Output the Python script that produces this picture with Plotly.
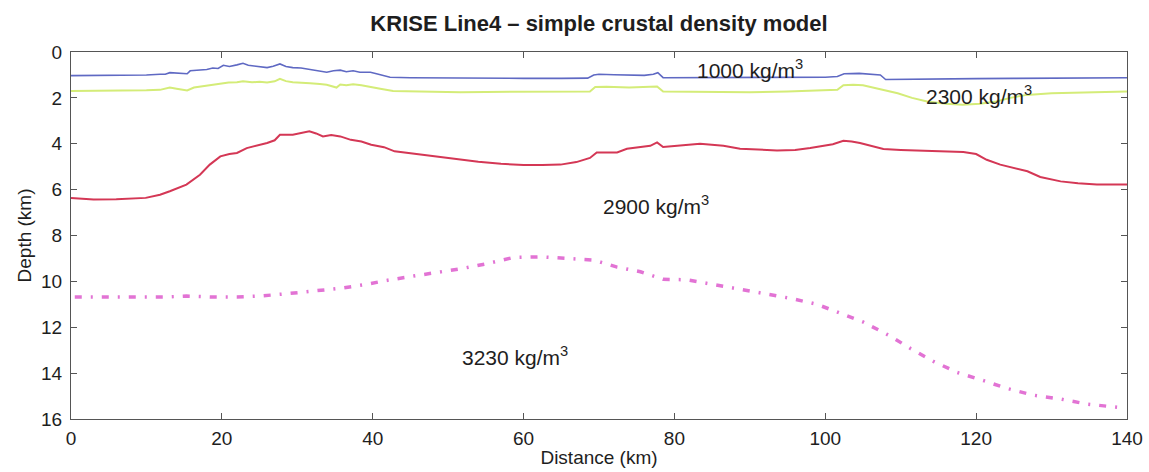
import plotly.graph_objects as go

# ---- data (distance km, depth km) ----
blue_x = [0, 5, 10, 11.8, 12.5, 13.1, 14, 15.4, 15.8, 17, 18, 18.8, 19.5, 20.2, 21, 22, 22.8, 23.5, 24.1, 25, 26, 26.8, 27.7, 28.5, 29.4, 30.5, 31.7, 32.8, 33.9, 34.8, 35.7, 36.5, 37.4, 38.3, 39.7, 40.5, 41.5, 42.3, 45, 50, 55, 60, 65, 68.5, 69.3, 70, 72, 74, 76, 77.2, 77.8, 78.5, 80, 85, 90, 95, 100, 101.6, 102.5, 104.5, 106, 107.3, 108, 110, 115, 120, 125, 130, 135, 140]
blue_y = [1.03, 1.03, 1.0, 0.97, 0.97, 0.90, 0.92, 0.95, 0.82, 0.80, 0.76, 0.70, 0.72, 0.58, 0.63, 0.56, 0.49, 0.58, 0.60, 0.62, 0.68, 0.62, 0.52, 0.63, 0.68, 0.70, 0.76, 0.80, 0.88, 0.82, 0.79, 0.86, 0.82, 0.88, 0.88, 0.95, 1.02, 1.10, 1.12, 1.14, 1.14, 1.15, 1.15, 1.14, 1.00, 0.97, 0.99, 1.02, 1.02, 0.97, 0.90, 1.12, 1.12, 1.11, 1.11, 1.11, 1.10, 1.07, 0.95, 0.93, 0.98, 1.00, 1.20, 1.19, 1.18, 1.16, 1.15, 1.14, 1.13, 1.12]

yellow_x = [0, 5, 10, 11.8, 13.1, 14, 15.4, 16.3, 17.3, 18.3, 19.5, 20.9, 22, 22.8, 24, 25, 26, 27, 27.7, 28.5, 29.4, 30.5, 31.7, 33, 33.9, 35.2, 35.7, 36.5, 37.4, 38.5, 39.7, 41, 42.7, 47, 51.6, 55, 60, 65, 68.8, 69.5, 71, 74, 77.2, 77.7, 78.5, 82, 86.5, 90, 95, 100, 101.6, 102.4, 103.7, 105, 107, 109.6, 111.5, 113.5, 116, 118.2, 120.5, 122.7, 124.5, 126.7, 130, 135, 140]
yellow_y = [1.70, 1.70, 1.67, 1.65, 1.55, 1.60, 1.68, 1.55, 1.50, 1.43, 1.40, 1.33, 1.32, 1.28, 1.32, 1.30, 1.33, 1.28, 1.17, 1.27, 1.32, 1.33, 1.36, 1.40, 1.43, 1.55, 1.42, 1.45, 1.41, 1.45, 1.51, 1.60, 1.70, 1.73, 1.75, 1.74, 1.73, 1.73, 1.72, 1.53, 1.52, 1.55, 1.52, 1.50, 1.72, 1.74, 1.77, 1.76, 1.72, 1.67, 1.65, 1.45, 1.43, 1.45, 1.60, 1.80, 2.00, 2.16, 2.26, 2.30, 2.26, 2.16, 2.00, 1.87, 1.80, 1.75, 1.72]

red_x = [0, 3, 6, 9.9, 11.8, 13.1, 15.3, 17.1, 18.4, 19.8, 21, 22, 23.3, 24.5, 26, 27, 27.7, 29.4, 30.5, 31.6, 32.5, 33.4, 34.5, 35.7, 37.1, 38.5, 39.8, 41.5, 42.9, 45, 47.3, 50, 54, 57, 60, 62.5, 64.9, 67, 68.8, 69.7, 72.4, 73.7, 76.8, 77.7, 78.5, 80, 83.4, 86.5, 88.7, 93.6, 96, 98, 99.3, 101, 102.4, 103.5, 104.6, 106, 107.7, 110, 114, 118.3, 120, 121.4, 123.2, 125, 126.8, 128.5, 131.2, 133.5, 136, 140]
red_y = [6.36, 6.43, 6.42, 6.36, 6.22, 6.07, 5.78, 5.35, 4.91, 4.55, 4.45, 4.40, 4.19, 4.10, 3.97, 3.85, 3.61, 3.61, 3.55, 3.46, 3.55, 3.68, 3.62, 3.68, 3.83, 3.90, 4.04, 4.15, 4.33, 4.42, 4.52, 4.62, 4.78, 4.87, 4.93, 4.93, 4.91, 4.80, 4.62, 4.38, 4.38, 4.22, 4.09, 3.94, 4.14, 4.10, 4.00, 4.09, 4.22, 4.29, 4.27, 4.19, 4.12, 4.02, 3.87, 3.90, 3.97, 4.09, 4.23, 4.27, 4.31, 4.36, 4.45, 4.70, 4.91, 5.05, 5.20, 5.45, 5.64, 5.72, 5.78, 5.78]

moho_x = [0.5, 5, 12.6, 15.3, 18.4, 22, 25, 28.6, 32, 35.7, 39.2, 41.8, 45.4, 48.5, 52, 55.1, 58.6, 62.2, 65.7, 69.3, 72.4, 75.5, 78.5, 81.6, 85.1, 88.7, 91.8, 95.4, 98.9, 102.4, 105, 108.6, 111.3, 114.4, 117.5, 121, 124.1, 127.6, 131.2, 134.7, 137.8, 139]
moho_y = [10.68, 10.68, 10.68, 10.64, 10.68, 10.68, 10.64, 10.54, 10.42, 10.30, 10.13, 9.96, 9.77, 9.62, 9.43, 9.23, 8.96, 8.93, 9.00, 9.07, 9.38, 9.58, 9.91, 9.93, 10.13, 10.35, 10.54, 10.74, 11.0, 11.43, 11.77, 12.38, 12.93, 13.5, 13.97, 14.33, 14.67, 14.96, 15.13, 15.35, 15.46, 15.5]

labels = ["1000 kg/m<sup>3</sup>", "2300 kg/m<sup>3</sup>", "2900 kg/m<sup>3</sup>", "3230 kg/m<sup>3</sup>"]
label_x = [90.0, 120.4, 77.5, 58.8]
label_y = [0.72, 1.87, 6.65, 13.26]

x_ticks = [0, 20, 40, 60, 80, 100, 120, 140]
y_ticks = [0, 2, 4, 6, 8, 10, 12, 14, 16]

FONT = "Liberation Sans, Arial, Helvetica, sans-serif"
TXT = "#1e1e1e"

fig = go.Figure()
fig.add_trace(go.Scatter(x=blue_x, y=blue_y, mode="lines",
                         line=dict(color="rgb(95,105,195)", width=1.6)))
fig.add_trace(go.Scatter(x=yellow_x, y=yellow_y, mode="lines",
                         line=dict(color="rgb(212,236,120)", width=2)))
fig.add_trace(go.Scatter(x=red_x, y=red_y, mode="lines",
                         line=dict(color="rgb(212,55,85)", width=2)))
fig.add_trace(go.Scatter(x=moho_x, y=moho_y, mode="lines",
                         line=dict(color="rgb(226,115,212)", width=3.5,
                                   dash="7px,9px,2px,9px")))

for t, xx, yy in zip(labels, label_x, label_y):
    fig.add_annotation(x=xx, y=yy, text=t, showarrow=False,
                       font=dict(family=FONT, size=21, color=TXT))

axis_common = dict(showline=True, linecolor="#555", linewidth=1, mirror="ticks",
                   ticks="inside", ticklen=6, tickcolor="#555", showgrid=False,
                   zeroline=False, automargin=False,
                   tickfont=dict(family=FONT, size=19, color=TXT))

fig.update_layout(
    width=1149, height=472,
    margin=dict(l=71, r=22, t=52, b=53),
    paper_bgcolor="white", plot_bgcolor="white",
    showlegend=False,
    title=dict(text="<b>KRISE Line4 \u2013 simple crustal density model</b>",
               x=(71 + 1127) / 2 / 1149, xanchor="center", y=1 - 23 / 472, yanchor="middle",
               font=dict(family=FONT, size=22, color=TXT)),
    xaxis=dict(range=[0, 140], tickvals=x_ticks, ticklabelstandoff=2,
               title=dict(text="Distance (km)", standoff=2,
                          font=dict(family=FONT, size=19, color=TXT)),
               **axis_common),
    yaxis=dict(range=[16, 0], tickvals=y_ticks, ticklabelstandoff=4,
               title=dict(text="Depth (km)", standoff=4,
                          font=dict(family=FONT, size=19, color=TXT)),
               **axis_common),
)

fig.write_html("out.html")
